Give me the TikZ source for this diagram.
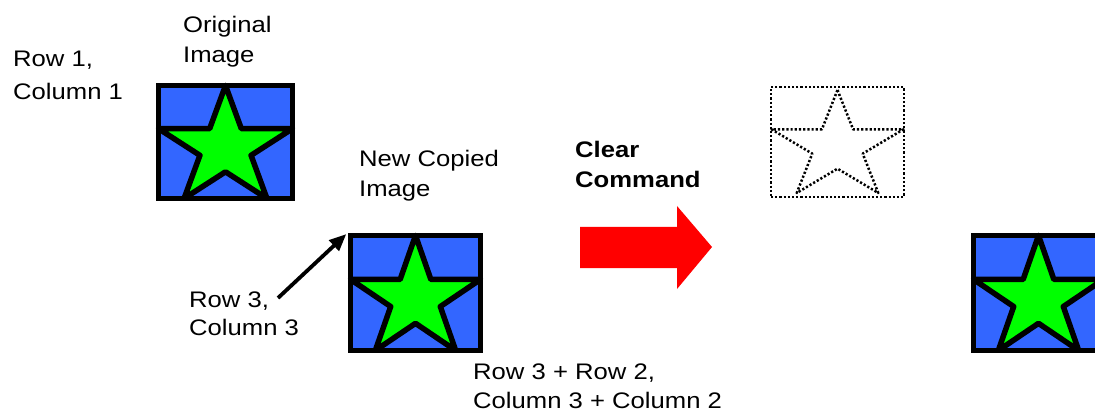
\documentclass[tikz,border=0pt]{standalone}
\usepackage{fontspec}
\setmainfont{Liberation Sans}[FakeStretch=1.14]
\usetikzlibrary{arrows.meta}
\definecolor{imgblue}{RGB}{51,102,255}
\definecolor{stargreen}{RGB}{0,255,0}
\newcommand{\drawstar}[5]{%
  \begin{scope}[shift={(#1,#2)}, xscale={#3/1.902}, yscale={#4/1.809}]
    \draw[#5] (0,0) -- (0.2245,0.691) -- (0.951,0.691) -- (0.363,1.118) -- (0.588,1.809) -- (0,1.382) -- (-0.588,1.809) -- (-0.363,1.118) -- (-0.951,0.691) -- (-0.2245,0.691) -- cycle;
  \end{scope}}
\tikzset{
  imgbox/.style={draw=black, line width=5.5pt, fill=imgblue, inner sep=0pt},
  clearbox/.style={draw=black, line width=2.5pt, dash pattern=on 2.2pt off 2pt, inner sep=0pt},
  solidstar/.style={fill=stargreen, draw=black, line width=5.5pt, line join=round},
  clearstar/.style={draw=black, line width=2.5pt, dash pattern=on 2.2pt off 2pt, line join=round},
  lbl/.style={anchor=base west, inner sep=0pt, align=left, font=\fontsize{22.5}{30}\selectfont},
  pointer/.style={draw=black, line width=3.8pt, -{Triangle[length=17pt,width=14pt]}},
  bigarrow/.style={fill=red, draw=none}
}
\begin{document}
\begin{tikzpicture}[x=1pt,y=-1pt]
  \useasboundingbox (0,0) rectangle (1095,414);
  \clip (0,0) rectangle (1095,414);
  % images
  \node[imgbox, minimum width=134pt, minimum height=113pt] (img1) at (225.5,142) {};
  \drawstar{225.5}{85.5}{134}{113}{solidstar}
  \node[imgbox, minimum width=130pt, minimum height=115pt] (img2) at (415.5,293) {};
  \drawstar{415.5}{235.5}{130}{115}{solidstar}
  \node[clearbox, minimum width=133pt, minimum height=110pt] (img3) at (837.5,142) {};
  \drawstar{837.5}{90}{132}{103}{clearstar}
  \node[imgbox, minimum width=130pt, minimum height=115pt] (img4) at (1038.5,293) {};
  \drawstar{1038.5}{235.5}{130}{115}{solidstar}
  % labels (anchor = baseline of last line)
  \node[lbl, font=\fontsize{22.5}{33}\selectfont] (r1) at (13,100) {Row 1,\\Column 1};
  \node[lbl] (orig) at (183,63) {Original\\Image};
  \node[lbl] (newc) at (359,197) {New Copied\\Image};
  \node[lbl, font=\bfseries\fontsize{22.5}{30}\selectfont] (clr) at (575,188) {Clear\\Command};
  \node[lbl, font=\fontsize{22.5}{28}\selectfont] (r3) at (189,335) {Row 3,\\Column 3};
  \node[lbl, font=\fontsize{22.5}{29}\selectfont] (sum) at (473,408) {Row 3 + Row 2,\\Column 3 + Column 2};
  % connectors
  \coordinate (r3tail) at (278,298);
  \draw[pointer, shorten >=2pt] (r3tail) -- (img2.north west);
  \fill[bigarrow] (580,227) -- (677,227) -- (677,206) -- (712,247) -- (677,289) -- (677,268) -- (580,268) -- cycle;
\end{tikzpicture}
\end{document}
